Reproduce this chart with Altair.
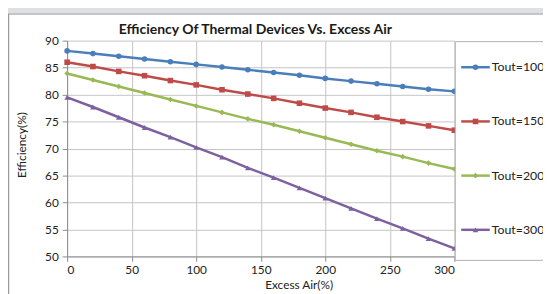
import altair as alt
import pandas as pd

excess_air = [0, 20, 40, 60, 80, 100, 120, 140, 160, 180, 200, 220, 240, 260, 280, 300]
tout100 = [88.1, 87.6, 87.1, 86.6, 86.1, 85.6, 85.1, 84.6, 84.1, 83.6, 83.0, 82.5, 82.0, 81.5, 81.0, 80.6]
tout150 = [86.0, 85.2, 84.3, 83.5, 82.6, 81.8, 80.9, 80.1, 79.3, 78.4, 77.5, 76.7, 75.8, 75.0, 74.2, 73.4]
tout200 = [83.9, 82.7, 81.5, 80.3, 79.1, 77.9, 76.7, 75.5, 74.4, 73.2, 72.0, 70.8, 69.6, 68.5, 67.3, 66.2]
tout300 = [79.5, 77.7, 75.8, 73.9, 72.1, 70.2, 68.4, 66.4, 64.6, 62.7, 60.8, 58.9, 57.0, 55.2, 53.3, 51.5]

series_names = ["Tout=100", "Tout=150", "Tout=200", "Tout=300"]
colors = ["#4a7ebb", "#be4b48", "#98b954", "#7d60a0"]
shapes = ["circle", "square", "diamond", "triangle-up"]
x_ticks = [0, 50, 100, 150, 200, 250, 300]
y_ticks = [50, 55, 60, 65, 70, 75, 80, 85, 90]
title_text = "Efficiency Of Thermal Devices Vs. Excess Air"
y_title = "Efficiency(%)"

rows = []
for name, vals in zip(series_names, [tout100, tout150, tout200, tout300]):
    for xv, v in zip(excess_air, vals):
        rows.append({"air": xv, "eff": v, "series": name})
df = pd.DataFrame(rows)
leg_df = pd.DataFrame({"series": series_names})
one = pd.DataFrame({"a": [0]})

FONT = "Lato"
GRAY = "#dde1e4"
color_scale = alt.Scale(domain=series_names, range=colors)
shape_scale = alt.Scale(domain=series_names, range=shapes)

x_enc = alt.X(
    "air:Q",
    scale=alt.Scale(domain=[0, 300], nice=False),
    axis=alt.Axis(values=x_ticks, title="Excess Air(%)", titleX=235, titleY=24,
                  titleAlign="center", titleBaseline="top", labelOverlap=False,
                  labelPadding=3, tickSize=5),
)
y_enc = alt.Y(
    "eff:Q",
    scale=alt.Scale(domain=[50, 90], nice=False),
    axis=alt.Axis(values=y_ticks, title=None,
                  labelOverlap=False, labelPadding=4, tickSize=5),
)

top_strip = alt.Chart(one).mark_rect(fill=GRAY, stroke=None).encode(
    x=alt.value(-70), x2=alt.value(700), y=alt.value(-40), y2=alt.value(-27)
)
top_border = alt.Chart(one).mark_rule(color="#9a9a9a", strokeWidth=1).encode(
    x=alt.value(-60), x2=alt.value(700), y=alt.value(-27)
)
left_border = alt.Chart(one).mark_rule(color="#9a9a9a", strokeWidth=1.5).encode(
    x=alt.value(-59.5), y=alt.value(-27), y2=alt.value(400)
)
title_mark = alt.Chart(one).mark_text(
    font=FONT, fontSize=14.2, fontWeight="bold", color="#1a1a1a",
    align="center", baseline="alphabetic",
).encode(x=alt.value(191), y=alt.value(-7), text=alt.value(title_text))
y_title_mark = alt.Chart(one).mark_text(
    font=FONT, fontSize=12, color="#222", angle=270,
    align="center", baseline="middle",
).encode(x=alt.value(-46), y=alt.value(106), text=alt.value(y_title))
legend_box = alt.Chart(one).mark_rect(fill="white", stroke="#b0b0b0", strokeWidth=1).encode(
    x=alt.value(394), x2=alt.value(700), y=alt.value(1), y2=alt.value(223)
)

lines = alt.Chart(df).mark_line(strokeWidth=2.5).encode(
    x=x_enc, y=y_enc,
    color=alt.Color("series:N", scale=color_scale, legend=None),
)
points = alt.Chart(df).mark_point(filled=True, size=32, opacity=1).encode(
    x=x_enc, y=y_enc,
    color=alt.Color("series:N", scale=color_scale, legend=None),
    shape=alt.Shape("series:N", scale=shape_scale, legend=None),
)

leg_y = alt.Y("series:N", scale=alt.Scale(type="point", domain=series_names, range=[27, 192], padding=0), axis=None)
leg_line = alt.Chart(leg_df).mark_rule(strokeWidth=2.5).encode(
    x=alt.value(400), x2=alt.value(429), y=leg_y,
    color=alt.Color("series:N", scale=color_scale, legend=None),
)
leg_pt = alt.Chart(leg_df).mark_point(filled=True, size=32, opacity=1).encode(
    x=alt.value(414.5), y=leg_y,
    color=alt.Color("series:N", scale=color_scale, legend=None),
    shape=alt.Shape("series:N", scale=shape_scale, legend=None),
)
leg_text = alt.Chart(leg_df).mark_text(align="left", baseline="middle", font=FONT, fontSize=12.5, color="#222").encode(
    x=alt.value(431), y=leg_y, text="series:N"
)

main = alt.layer(lines, points)
legend = alt.layer(legend_box, leg_line, leg_pt, leg_text)

chart = alt.layer(top_strip, top_border, left_border, title_mark, y_title_mark, main, legend).resolve_scale(y="independent").properties(
    width=393, height=219,
    padding={"left": 60, "top": 31, "right": 90, "bottom": 36},
    autosize=alt.AutoSizeParams(type="none"),
    background="white",
).configure_axis(
    labelFont=FONT, labelFontSize=12, labelColor="#222",
    titleFont=FONT, titleFontSize=12, titleFontWeight="normal", titleColor="#222",
    gridColor="#c4c4c4", gridWidth=1, domainColor="#8c8c8c", tickColor="#8c8c8c",
).configure_view(stroke=None)

chart.save("out.html", embed_options={"renderer": "svg", "actions": False})
